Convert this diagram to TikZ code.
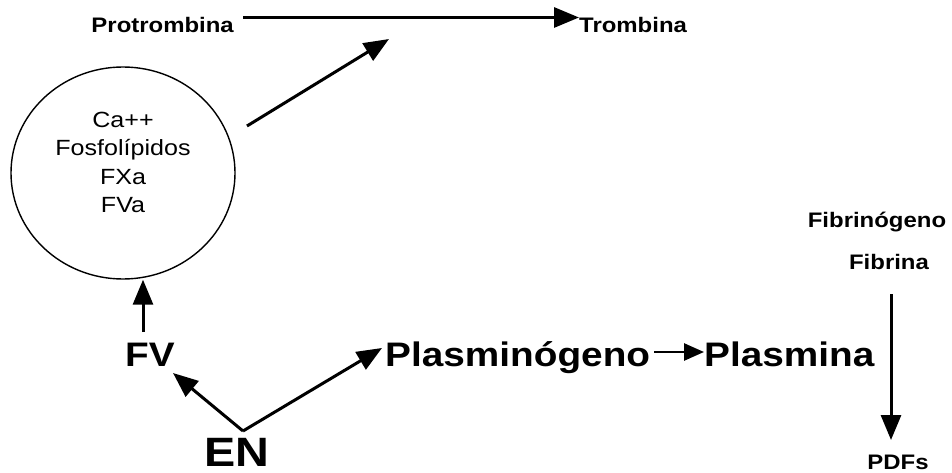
\documentclass[tikz,border=0pt]{standalone}
\usepackage{fontspec}
\setmainfont{Liberation Sans}[FakeStretch=1.14]
\usetikzlibrary{arrows.meta,shapes.geometric}

\begin{document}
\begin{tikzpicture}[x=1pt,y=-1pt,
  lbl/.style={inner sep=0pt,font=\fontsize{21}{25}\selectfont\bfseries},
  biglbl/.style={inner sep=0pt,font=\fontsize{34}{40}\selectfont\bfseries},
  hugelbl/.style={inner sep=0pt,font=\fontsize{41}{46}\selectfont\bfseries},
  factors/.style={inner sep=0pt,align=center,font=\fontsize{22}{28.5}\selectfont},
  ring/.style={draw,ellipse,line width=1.4pt,inner sep=0pt,
               minimum width=224pt,minimum height=212pt},
  arr/.style={line width=3pt,-{Triangle[length=25pt,width=20pt]}},
  shortarr/.style={line width=2.6pt,-{Triangle[length=20pt,width=17pt]}}]

\useasboundingbox (0,0) rectangle (952,473);

% prothrombin -> thrombin
\node[lbl,anchor=base east] (pro) at (234,33) {Protrombina};
\node[lbl,anchor=base west] (tro) at (579,33) {Trombina};
\draw[arr] (pro.east) ++(9,-8) coordinate (prostart) -- (tro.west |- prostart);

% prothrombinase complex
\node[ring] (ring) at (123,173) {};
\node[factors] (mix) at (123,162.5) {Ca++\\Fosfolípidos\\FXa\\FVa};
\coordinate (cxout) at (247,126);
\coordinate (cxtip) at (389,39);
\draw[arr] (cxout) -- (cxtip);

% factor V and EN
\node[biglbl,anchor=base west] (fv) at (125,366) {FV};
\coordinate (fvtop) at (143,332);
\draw[arr] (fvtop) -- (ring.south -| fvtop);

\node[hugelbl,anchor=base] (en) at (237,466) {EN};
\coordinate (enfork) at (243,431);
\coordinate (fvtip) at (173,373);
\draw[arr] (enfork) -- (fvtip);

% fibrinolysis
\node[biglbl,anchor=base west] (plg) at (385,366) {Plasminógeno};
\node[biglbl,anchor=base west] (pla) at (704,366) {Plasmina};
\coordinate (plgtip) at (382,348);
\draw[arr] (enfork) -- (plgtip);
\draw[shortarr] (plg.east |- 0,352) ++(4,0) coordinate (plgout) -- (pla.west |- plgout);

% fibrin degradation
\node[lbl,anchor=center] (fbg) at (877,222) {Fibrinógeno};
\node[lbl,anchor=center] (fbn) at (889,262) {Fibrina};
\node[lbl,anchor=center] (pdf) at (898,462) {PDFs};
\coordinate (fbnout) at (891,294);
\draw[arr] (fbnout) -- (fbnout |- 0,440);

\end{tikzpicture}
\end{document}
